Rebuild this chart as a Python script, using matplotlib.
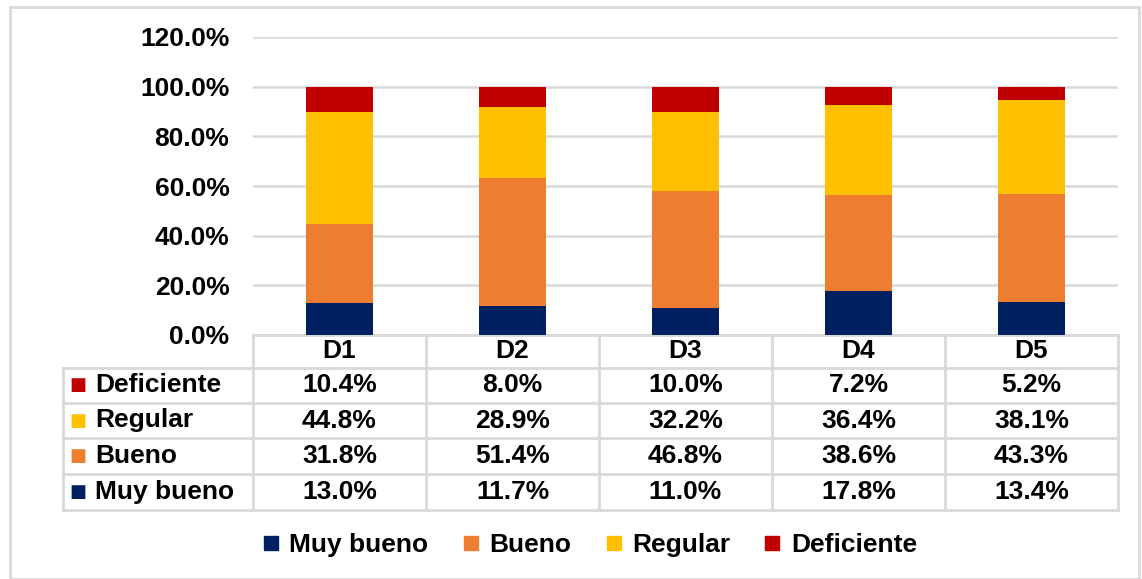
import matplotlib.pyplot as plt
import matplotlib.transforms as mtransforms
from matplotlib.patches import Rectangle
from matplotlib.lines import Line2D
import numpy as np

plt.rcParams['font.family'] = ['Liberation Sans', 'DejaVu Sans']
plt.rcParams['font.weight'] = 'bold'

categories = ['D1', 'D2', 'D3', 'D4', 'D5']
muy_bueno = [13.0, 11.7, 11.0, 17.8, 13.4]
bueno = [31.8, 51.4, 46.8, 38.6, 43.3]
regular = [44.8, 28.9, 32.2, 36.4, 38.1]
deficiente = [10.4, 8.0, 10.0, 7.2, 5.2]

series_names = ['Muy bueno', 'Bueno', 'Regular', 'Deficiente']
series_vals = [muy_bueno, bueno, regular, deficiente]
colors = ['#002060', '#ED7D31', '#FFC000', '#C00000']

W, H = 1142, 579
fig = plt.figure(figsize=(W / 100, H / 100), dpi=100)

# outer frame like the excel chart area
fig.patches.append(Rectangle((10 / W, 0), 1129 / W, 1 - 7 / H, transform=fig.transFigure,
                             fill=False, edgecolor='#d9d9d9', linewidth=2, clip_on=False))

ax = fig.add_axes([253 / W, 1 - 335 / H, 865 / W, 298 / H])
x = np.arange(len(categories))
bottom = np.zeros(len(categories))
for name, vals, c in zip(series_names, series_vals, colors):
    ax.bar(x, vals, 0.39, bottom=bottom, color=c, label=name, zorder=3)
    bottom += np.array(vals)

ax.set_xlim(-0.5, len(categories) - 0.5)
ax.set_ylim(0, 120)
ax.set_yticks(np.arange(0, 121, 20))
ax.set_yticklabels([f'{v:.1f}%' for v in np.arange(0, 121, 20)], fontsize=19, fontweight='bold')
ax.tick_params(axis='y', length=0, pad=17)
ax.tick_params(axis='x', length=0, labelbottom=False)
ax.grid(axis='y', color='#d9d9d9', linewidth=1.8, zorder=0)
for s in ax.spines.values():
    s.set_visible(False)

# data table below the bars
trans = mtransforms.blended_transform_factory(ax.transData, ax.transAxes)
px = 1 / 298
row_edges = [0, -33 * px, -68 * px, -103 * px, -139 * px, -175 * px]
lc = '#d9d9d9'
lw = 2
left_lbl = -0.5 - 190 / 173
n = len(categories)
# horizontal lines
ax.add_line(Line2D([-0.5, n - 0.5], [0, 0], transform=trans, color=lc, lw=lw, clip_on=False))
for ye in row_edges[1:]:
    ax.add_line(Line2D([left_lbl, n - 0.5], [ye, ye], transform=trans, color=lc, lw=lw, clip_on=False))
# vertical lines
for xe in np.arange(-0.5, n, 1.0):
    ax.add_line(Line2D([xe, xe], [0, row_edges[-1]], transform=trans, color=lc, lw=lw, clip_on=False))
ax.add_line(Line2D([left_lbl, left_lbl], [row_edges[1], row_edges[-1]], transform=trans,
                   color=lc, lw=lw, clip_on=False))

# header
for i, cat in enumerate(categories):
    ax.text(i, (row_edges[0] + row_edges[1]) / 2, cat, transform=trans, ha='center', va='center',
            fontsize=19, fontweight='bold')

# rows, top to bottom: Deficiente, Regular, Bueno, Muy bueno
order = [3, 2, 1, 0]
for r, si in enumerate(order):
    yc = (row_edges[r + 1] + row_edges[r + 2]) / 2
    ax.text(left_lbl + 0.085, yc, '\u25A0', transform=trans, ha='center', va='center',
            fontsize=13, color=colors[si], family='DejaVu Sans')
    ax.text(left_lbl + 0.185, yc, series_names[si], transform=trans, ha='left', va='center',
            fontsize=19, fontweight='bold')
    for i, v in enumerate(series_vals[si]):
        ax.text(i, yc, f'{v:.1f}%', transform=trans, ha='center', va='center',
                fontsize=19, fontweight='bold')

handles = [Line2D([], [], marker='s', linestyle='none', markersize=10, color=c) for c in colors]
fig.legend(handles, series_names, loc='center', bbox_to_anchor=(590 / W, 1 - 545 / H), ncol=4,
           frameon=False, handlelength=0.6, handletextpad=0.4, columnspacing=1.3,
           prop={'weight': 'bold', 'size': 19})

fig.savefig('out.png', dpi=100)
